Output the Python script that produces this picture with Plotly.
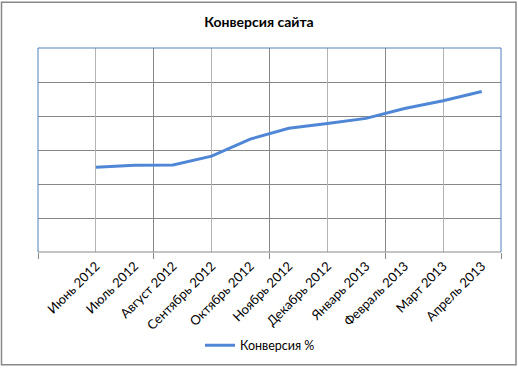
import plotly.graph_objects as go

# Monthly site conversion
months = ["Июнь 2012", "Июль 2012", "Август 2012", "Сентябрь 2012", "Октябрь 2012",
          "Ноябрь 2012", "Декабрь 2012", "Январь 2013", "Февраль 2013", "Март 2013",
          "Апрель 2013"]
conversion = [2.49, 2.55, 2.56, 2.82, 3.32, 3.64, 3.78, 3.93, 4.22, 4.45, 4.72]

W, H = 518, 372
L, R, T, B = 38, 17, 48, 117
PW, PH = W - L - R, H - T - B

def px(x):
    return (x - L) / PW

def py(y):
    return (H - B - y) / PH

xr = [-1.5, len(months) - 0.5]
major = [xr[0] + 3 * k for k in range(5)]          # darker grid + tick marks
minor = [xr[0] + 1.5 + 3 * k for k in range(4)]    # lighter grid

FONT = "Lato, 'Open Sans', sans-serif"
BLUE = "#4f81bd"
SERIES = "#4f87d6"
DARK = "#878787"
LIGHT = "#b3b3b3"

fig = go.Figure()
# helper traces so the overlay grid axes get drawn
fig.add_trace(go.Scatter(x=xr, y=[None, None], xaxis="x3", yaxis="y",
                         showlegend=False, hoverinfo="skip"))
fig.add_trace(go.Scatter(x=xr, y=[None, None], xaxis="x2", yaxis="y",
                         showlegend=False, hoverinfo="skip"))
fig.add_trace(go.Scatter(x=months, y=conversion, mode="lines", name="Конверсия %",
                         line=dict(color=SERIES, width=3)))

fig.update_layout(
    width=W, height=H,
    margin=dict(l=L, r=R, t=T, b=B),
    paper_bgcolor="white", plot_bgcolor="white",
    font=dict(family=FONT, size=13, color="black"),
    title=dict(text="<b>Конверсия сайта</b>", x=0.5, xanchor="center",
               y=1 - 22 / H, yanchor="middle", font=dict(size=14)),
    xaxis=dict(type="category", categoryorder="array", categoryarray=months,
               range=xr, showgrid=False, zeroline=False, ticks="",
               tickangle=-45, tickfont=dict(size=13), showline=False,
               ticklabelstandoff=3),
    xaxis2=dict(overlaying="x", anchor="y", range=xr, tickvals=major,
                showticklabels=False, showgrid=True, gridcolor=DARK, gridwidth=1,
                ticks="outside", ticklen=6, tickcolor=DARK, zeroline=False,
                showline=False),
    xaxis3=dict(overlaying="x", anchor="y", range=xr, tickvals=minor,
                showticklabels=False, showgrid=True, gridcolor=LIGHT, gridwidth=1,
                ticks="", zeroline=False, showline=False),
    yaxis=dict(range=[0, 6], dtick=1, showticklabels=False, showgrid=True,
               gridcolor=DARK, gridwidth=1, zeroline=False, ticks="", showline=False),
    legend=dict(orientation="h", x=px(260), xanchor="center", y=py(350),
                yanchor="middle", font=dict(size=12.5), bgcolor="rgba(0,0,0,0)"),
    showlegend=True,
    shapes=[
        # bottom axis line
        dict(type="line", xref="paper", yref="paper", x0=0, x1=1, y0=0, y1=0,
             line=dict(color=DARK, width=1)),
        # plot-area edges
        dict(type="line", xref="paper", yref="paper", x0=0, x1=0, y0=0, y1=1,
             line=dict(color=BLUE, width=1)),
        dict(type="line", xref="paper", yref="paper", x0=0, x1=1, y0=1, y1=1,
             line=dict(color=BLUE, width=1)),
        dict(type="line", xref="paper", yref="paper", x0=1, x1=1, y0=0, y1=1,
             line=dict(color=BLUE, width=1)),
        # chart frame
        dict(type="rect", xref="paper", yref="paper",
             x0=px(1.5), x1=px(516), y0=py(369.5), y1=py(1.5),
             line=dict(color=DARK, width=1.5), layer="below"),
    ],
)

fig.write_html("out.html")
